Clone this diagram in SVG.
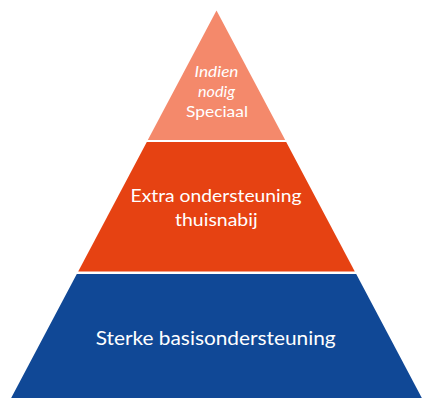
<svg xmlns="http://www.w3.org/2000/svg" width="422" height="398" viewBox="0 0 422 398">
<style>
.t{font-family:Lato,"Open Sans","Liberation Sans",sans-serif;fill:#ffffff;text-anchor:middle;}
.s{font-size:15px;}
.m{font-size:18px;}
.b{font-size:19.5px;}
.i{font-style:italic;}
</style>
<rect width="422" height="398" fill="#ffffff"/>
<g id="top">
<polygon points="216.5,10.5 285.2,140 147.8,140" fill="#F4896B"/>
<text class="t s i" x="216.5" y="77" textLength="44" lengthAdjust="spacingAndGlyphs">Indien</text>
<text class="t s i" x="216.5" y="97" textLength="37" lengthAdjust="spacingAndGlyphs">nodig</text>
<text class="t s" x="217" y="117" textLength="62" lengthAdjust="spacingAndGlyphs">Speciaal</text>
</g>
<g id="middle">
<polygon points="146.8,142 286.2,142 354.8,271.5 78.2,271.5" fill="#E64212"/>
<text class="t m" x="216" y="202" textLength="171" lengthAdjust="spacingAndGlyphs">Extra ondersteuning</text>
<text class="t m" x="216.3" y="226" textLength="82.5" lengthAdjust="spacingAndGlyphs">thuisnabij</text>
</g>
<g id="bottom">
<polygon points="76.8,274 356.2,274 422.9,400 10.1,400" fill="#104896"/>
<text class="t b" x="215.7" y="345" textLength="240" lengthAdjust="spacingAndGlyphs">Sterke basisondersteuning</text>
</g>
<g id="connectors"></g>
</svg>
